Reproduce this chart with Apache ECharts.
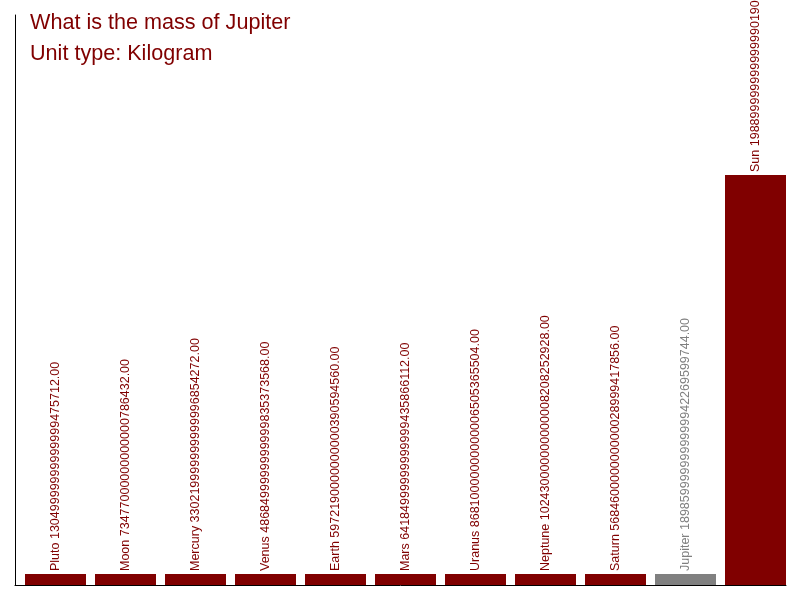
<!DOCTYPE html>
<html>
<head>
<meta charset="utf-8">
<script src="https://cdn.jsdelivr.net/npm/echarts@6/dist/echarts.min.js"></script>
<style>
html,body{margin:0;padding:0;background:#fff;}
#chart{width:800px;height:600px;}
</style>
</head>
<body>
<div id="chart"></div>
<script>
var categories = ["Pluto","Moon","Mercury","Venus","Earth","Mars","Uranus","Neptune","Saturn","Jupiter","Sun"];
var masses = [1.305e22, 7.3477e22, 3.3022e23, 4.8685e24, 5.97219e24, 6.4185e25, 8.681e25, 1.0243e26, 5.6846e26, 1.8986e27, 1.989e30];
var highlight = "Jupiter";
var titleLines = ["What is the mass of Jupiter", "Unit type: Kilogram"];

var RED = "#800000", GREY = "#808080";
var FONT = 'Liberation Sans, Arial, sans-serif';
function fmt(v){ try { return BigInt(v).toString() + ".00"; } catch(e){ return v.toFixed(2); } }

var data = masses.map(function(v, i){
  var c = categories[i] === highlight ? GREY : RED;
  return { value: v, itemStyle: { color: c }, label: { color: c } };
});

var YMAX = 2.765e30;
var chart = echarts.init(document.getElementById('chart'));
chart.setOption({
  animation: false,
  textStyle: { fontFamily: FONT },
  title: {
    text: titleLines.join('\n'),
    left: 30, top: 8, padding: 0,
    textStyle: { color: RED, fontSize: 21.6, fontWeight: 'normal', lineHeight: 31, fontFamily: FONT }
  },
  grid: [
    { left: 15, right: 14, top: 15, bottom: 15 },
    { left: 20.5, right: 9.5, top: 15, bottom: 15 }
  ],
  xAxis: [
    { type: 'category', gridIndex: 0, data: categories,
      axisLine: { show: true, lineStyle: { color: '#000', width: 1 } },
      axisTick: { show: false }, axisLabel: { show: false } },
    { type: 'category', gridIndex: 1, data: categories,
      axisLine: { show: false }, axisTick: { show: false }, axisLabel: { show: false } }
  ],
  yAxis: [
    { type: 'value', gridIndex: 0, min: 0, max: YMAX,
      axisLine: { show: true, lineStyle: { color: '#000', width: 1 } },
      axisTick: { show: false }, axisLabel: { show: false }, splitLine: { show: false } },
    { type: 'value', gridIndex: 1, min: 0, max: YMAX,
      axisLine: { show: false }, axisTick: { show: false }, axisLabel: { show: false }, splitLine: { show: false } }
  ],
  series: [{
    type: 'bar', xAxisIndex: 1, yAxisIndex: 1, data: data,
    barWidth: 61,
    barMinHeight: 11,
    label: {
      show: true, position: 'top', rotate: 90, align: 'left', verticalAlign: 'middle',
      distance: 3, fontSize: 12.5, fontFamily: FONT,
      formatter: function(p){ return p.name + ' ' + fmt(p.value); }
    }
  }]
});
</script>
</body>
</html>
